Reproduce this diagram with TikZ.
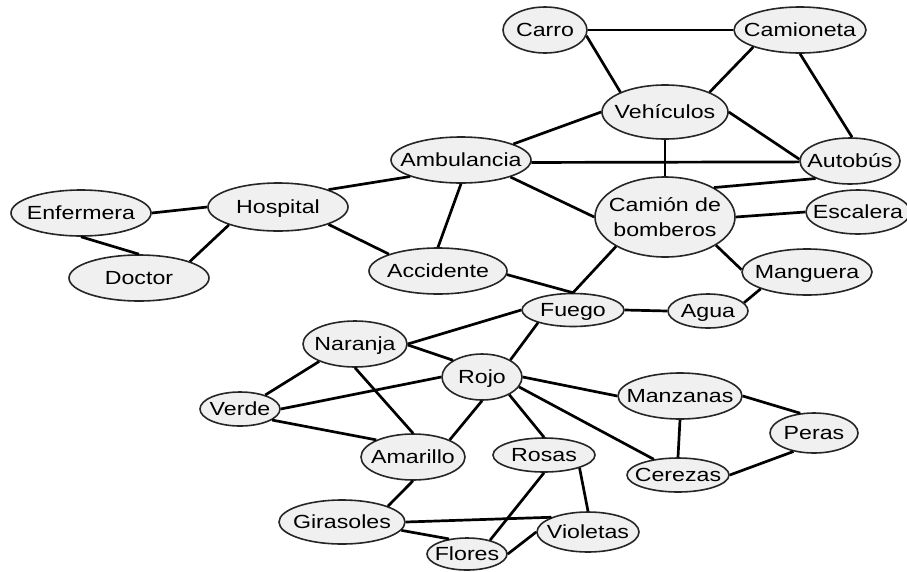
\documentclass[tikz,border=0pt]{standalone}
\usepackage{fontspec}
\setmainfont[FakeStretch=1.22]{Liberation Sans}
\usetikzlibrary{shapes.geometric}
\begin{document}
\begin{tikzpicture}[x=1pt,y=-1pt,
  ell/.style={ellipse, draw=black!85, line width=1.6pt, fill=black!6, inner sep=0pt},
  txt/.style={font=\fontsize{19}{25}\selectfont, inner sep=0pt, text height=13.6pt, text depth=0pt},
  txtml/.style={font=\fontsize{19}{25}\selectfont, inner sep=0pt, align=center},
  edge/.style={line width=2.7pt, black}]
\useasboundingbox (0,0) rectangle (907,571);
\newcommand\ellnode[6]{%
  \node[ell, minimum width=#4pt, minimum height=#5pt] (#1) at (#2,#3) {};
  \node[txt] (#1-t) at (#1) {#6};}
\ellnode{carro}{545}{30}{84}{46}{Carro}
\ellnode{camioneta}{800}{30}{132}{46}{Camioneta}
\ellnode{vehiculos}{665}{112}{126}{54}{Vehículos}
\ellnode{autobus}{850}{161}{100}{46}{Autobús}
\ellnode{ambulancia}{461}{160}{140}{46}{Ambulancia}
\ellnode{hospital}{278}{207}{140}{48}{Hospital}
\ellnode{enfermera}{81}{213}{140}{46}{Enfermera}
\ellnode{doctor}{139}{278}{140}{46}{Doctor}
\ellnode{accidente}{438}{271}{138}{46}{Accidente}
\node[ell, minimum width=140pt, minimum height=80pt] (camion) at (665,217) {};
\node[txtml] (camion-t) at (camion) {Camión de\\bomberos};
\ellnode{escalera}{858}{212}{104}{44}{Escalera}
\ellnode{manguera}{807}{272}{130}{46}{Manguera}
\ellnode{fuego}{573}{310}{102}{33}{Fuego}
\ellnode{agua}{708}{311}{80}{34}{Agua}
\ellnode{naranja}{355}{344}{104}{46}{Naranja}
\ellnode{rojo}{482}{377}{80}{46}{Rojo}
\ellnode{verde}{240}{409}{80}{34}{Verde}
\ellnode{amarillo}{413}{457}{104}{46}{Amarillo}
\ellnode{rosas}{544}{455}{102}{34}{Rosas}
\ellnode{girasoles}{342}{522}{126}{44}{Girasoles}
\ellnode{flores}{467}{554}{80}{32}{Flores}
\ellnode{violetas}{588}{532}{102}{40}{Violetas}
\ellnode{manzanas}{680}{396}{124}{46}{Manzanas}
\ellnode{peras}{814}{433}{88}{40}{Peras}
\ellnode{cerezas}{678}{475}{102}{34}{Cerezas}
\begin{scope}[edge]
\draw (carro.east) -- (camioneta.west);
\draw (carro.-8) -- (vehiculos.156);
\draw (camioneta.200) -- (vehiculos.24);
\draw (camioneta.-90) -- (autobus.85);
\draw (vehiculos.180) -- (ambulancia.17);
\draw (vehiculos.0) -- (autobus.178);
\draw (vehiculos.-90) -- (camion.90);
\draw (ambulancia.-2) -- (autobus.181);
\draw (autobus.207) -- (camion.31);
\draw (ambulancia.-19) -- (camion.180);
\draw (ambulancia.198) -- (hospital.19);
\draw (ambulancia.-90) -- (accidente.90);
\draw (hospital.180) -- (enfermera.0);
\draw (hospital.200) -- (doctor.18);
\draw (hospital.-19) -- (accidente.161);
\draw (enfermera.-90) -- (doctor.90);
\draw (camion.0) -- (escalera.180);
\draw (camion.-29) -- (manguera.178);
\draw (camion.211) -- (fuego.90);
\draw (accidente.-3) -- (fuego.90);
\draw (fuego.0) -- (agua.180);
\draw (agua.13) -- (manguera.200);
\draw (fuego.180) -- (naranja.0);
\draw (fuego.200) -- (rojo.31);
\draw (naranja.-1) -- (rojo.150);
\draw (naranja.206) -- (verde.29);
\draw (naranja.-90) -- (amarillo.90);
\draw (verde.0) -- (rojo.180);
\draw (verde.-19) -- (amarillo.155);
\draw (rojo.-90) -- (amarillo.25);
\draw (rojo.-33) -- (rosas.90);
\draw (rojo.0) -- (manzanas.180);
\draw (rojo.-15) -- (cerezas.147);
\draw (manzanas.-90) -- (cerezas.90);
\draw (manzanas.0) -- (peras.125);
\draw (peras.222) -- (cerezas.0);
\draw (amarillo.-90) -- (girasoles.19);
\draw (girasoles.0) -- (violetas.158);
\draw (girasoles.-8) -- (flores.140);
\draw (rosas.-90) -- (flores.31);
\draw (rosas.-20) -- (violetas.90);
\draw (flores.0) -- (violetas.180);
\end{scope}
\end{tikzpicture}
\end{document}
